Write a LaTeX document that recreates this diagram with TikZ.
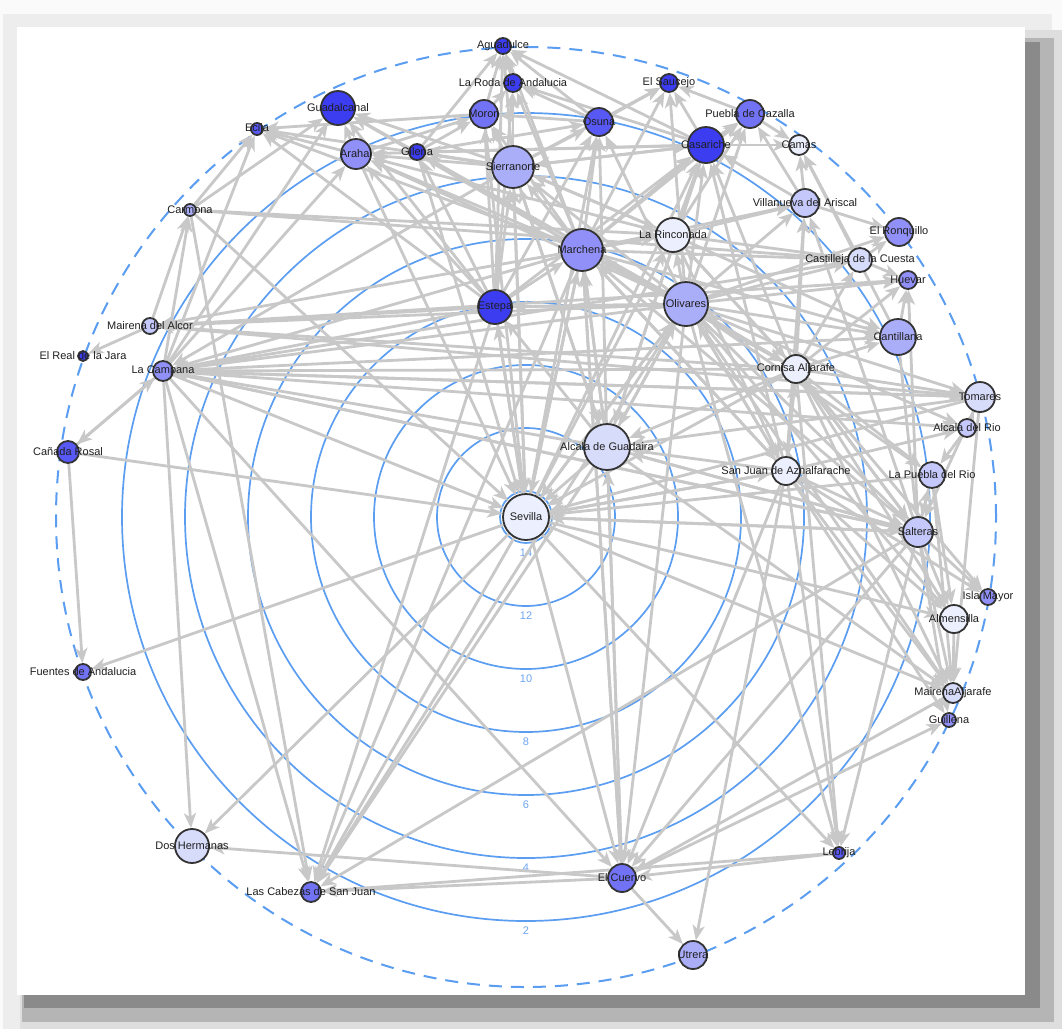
\documentclass[tikz,border=0pt]{standalone}
\usepackage{fontspec}
\setmainfont{Liberation Sans}
\usetikzlibrary{arrows.meta,backgrounds}
\definecolor{edgegray}{HTML}{C8C8C8}
\definecolor{ringblue}{HTML}{5B9DF0}
\definecolor{ringtext}{HTML}{6DA6F0}
\definecolor{bA}{HTML}{3C3CF0}
\definecolor{bB}{HTML}{5858F5}
\definecolor{bC}{HTML}{7272F5}
\definecolor{bD}{HTML}{9090F8}
\definecolor{bE}{HTML}{AAAEF8}
\definecolor{bF}{HTML}{C4C8FA}
\definecolor{bG}{HTML}{D8DCFB}
\definecolor{bH}{HTML}{ECEFFD}
\begin{document}
\begin{tikzpicture}[x=1pt,y=-1pt]
	\tikzstyle{Town} = [circle, draw=black!80, line width=1.8pt, inner sep=0pt]
	\tikzstyle{Arrow} = [edgegray, line width=2.8pt, -{Stealth[length=15pt,width=12pt,inset=4pt]}]
	\tikzstyle{Ring} = [ringblue, line width=1.7pt]
	\tikzstyle{RingLabel} = [text=ringtext, font=\fontsize{11}{12}\selectfont, inner sep=0pt]
	\tikzset{every label/.style={font=\fontsize{11}{12}\selectfont, text=black!88, inner sep=0pt}}
	\useasboundingbox (0,0) rectangle (1062,1029);
	
	% towns
	\node (agu) [Town, fill=bA, minimum size=16pt, label={center:Aguadulce}] at (503,46) {};
	\node (roda) [Town, fill=bA, minimum size=18pt, label={center:La Roda de Andalucia}] at (513,83) {};
	\node (sau) [Town, fill=bA, minimum size=18pt, label={center:El Saucejo}] at (669,83) {};
	\node (mor) [Town, fill=bC, minimum size=28pt, label={center:Moron}] at (484,114) {};
	\node (osu) [Town, fill=bB, minimum size=28pt, label={center:Osuna}] at (599,122) {};
	\node (pue) [Town, fill=bC, minimum size=28pt, label={center:Puebla de Cazalla}] at (750,114) {};
	\node (cas) [Town, fill=bA, minimum size=36pt, label={center:Casariche}] at (706,145) {};
	\node (cam) [Town, fill=bH, minimum size=20pt, label={center:Camas}] at (799,145) {};
	\node (gil) [Town, fill=bA, minimum size=16pt, label={center:Gilena}] at (417,152) {};
	\node (sie) [Town, fill=bE, minimum size=42pt, label={center:Sierranorte}] at (513,167) {};
	\node (gua) [Town, fill=bA, minimum size=34pt, label={center:Guadalcanal}] at (338,108) {};
	\node (eci) [Town, fill=bB, minimum size=12pt, label={center:Ecija}] at (257,129) {};
	\node (ara) [Town, fill=bD, minimum size=30pt, label={center:Arahal}] at (356,154) {};
	\node (car) [Town, fill=bE, minimum size=12pt, label={center:Carmona}] at (190,210) {};
	\node (vil) [Town, fill=bF, minimum size=28pt, label={center:Villanueva del Ariscal}] at (805,203) {};
	\node (rin) [Town, fill=bH, minimum size=34pt, label={center:La Rinconada}] at (673,235) {};
	\node (ron) [Town, fill=bD, minimum size=28pt, label={center:El Ronquillo}] at (899,232) {};
	\node (cdc) [Town, fill=bG, minimum size=24pt, label={center:Castilleja de la Cuesta}] at (860,260) {};
	\node (hue) [Town, fill=bD, minimum size=18pt, label={center:Huevar}] at (908,280) {};
	\node (oli) [Town, fill=bE, minimum size=44pt, label={center:Olivares}] at (686,304) {};
	\node (cnt) [Town, fill=bE, minimum size=36pt, label={center:Cantillana}] at (898,337) {};
	\node (mar) [Town, fill=bD, minimum size=42pt, label={center:Marchena}] at (582,250) {};
	\node (est) [Town, fill=bA, minimum size=34pt, label={center:Estepa}] at (495,307) {};
	\node (mda) [Town, fill=bF, minimum size=16pt, label={center:Mairena del Alcor}] at (150,326) {};
	\node (rea) [Town, fill=bA, minimum size=10pt, label={center:El Real de la Jara}] at (83,356) {};
	\node (cpa) [Town, fill=bD, minimum size=20pt, label={center:La Campana}] at (163,371) {};
	\node (cro) [Town, fill=bB, minimum size=22pt, label={center:Cañada Rosal}] at (68,452) {};
	\node (cor) [Town, fill=bH, minimum size=28pt, label={center:Cornisa Aljarafe}] at (796,369) {};
	\node (tom) [Town, fill=bG, minimum size=30pt, label={center:Tomares}] at (980,397) {};
	\node (adr) [Town, fill=bF, minimum size=18pt, label={center:Alcala del Rio}] at (967,428) {};
	\node (sja) [Town, fill=bH, minimum size=28pt, label={center:San Juan de Aznalfarache}] at (786,471) {};
	\node (pdr) [Town, fill=bF, minimum size=26pt, label={center:La Puebla del Rio}] at (932,475) {};
	\node (sal) [Town, fill=bF, minimum size=30pt, label={center:Salteras}] at (918,532) {};
	\node (adg) [Town, fill=bG, minimum size=46pt, label={center:Alcala de Guadaira}] at (607,447) {};
	\node (sev) [Town, fill=bH, minimum size=46pt, label={center:Sevilla}] at (526,517) {};
	\node (ism) [Town, fill=bD, minimum size=16pt, label={center:Isla Mayor}] at (988,597) {};
	\node (alm) [Town, fill=bH, minimum size=28pt, label={center:Almensilla}] at (954,619) {};
	\node (maj) [Town, fill=bG, minimum size=20pt, label={center:MairenaAljarafe}] at (953,693) {};
	\node (gui) [Town, fill=bD, minimum size=14pt, label={center:Guillena}] at (949,720) {};
	\node (fue) [Town, fill=bC, minimum size=16pt, label={center:Fuentes de Andalucia}] at (83,672) {};
	\node (dos) [Town, fill=bG, minimum size=34pt, label={center:Dos Hermanas}] at (192,846) {};
	\node (cue) [Town, fill=bC, minimum size=28pt, label={center:El Cuervo}] at (622,878) {};
	\node (leb) [Town, fill=bB, minimum size=12pt, label={center:Lebrija}] at (839,853) {};
	\node (utr) [Town, fill=bE, minimum size=28pt, label={center:Utrera}] at (693,955) {};
	\node (lcs) [Town, fill=bC, minimum size=20pt, label={center:Las Cabezas de San Juan}] at (311,892) {};
	
	\begin{pgfonlayer}{background}
	% frame and shadow
	\fill[black!2] (0,0) rectangle (1062,1029);
	\fill[black!7] (3,14) rectangle (1052,1029);
	\fill[black!13] (20,30) rectangle (1062,1029);
	\fill[black!29] (22,38) rectangle (1054,1022);
	\fill[black!46] (24,42) rectangle (1040,1008);
	\fill[white] (17,27) rectangle (1025,995);
	% distance rings
	\foreach \r/\t in {26/14, 89/12, 152/10, 215/8, 278/6, 341/4, 404/2} {
		\draw[Ring] (526,517) circle (\r pt);
		\node (ring\t) [RingLabel] at (526,{517+\r+10}) {\t};
	}
	\draw[Ring, line width=2pt, dash pattern=on 13pt off 9pt] (526,517) circle (470pt);
	% links
	\foreach \a/\b in {mor/agu, sie/agu, osu/agu, cas/agu, roda/agu, mar/agu, est/agu, gil/agu,
		mor/roda, sie/roda, mar/roda, est/roda, osu/roda, cas/roda,
		osu/sau, cas/sau, mar/sau, sie/sau, pue/sau, oli/sau,
		cas/pue, mar/pue, oli/pue, rin/pue, vil/pue,
		est/cas, oli/cas, mar/cas, rin/cas, adg/cas, cor/cas, sja/cas, sev/cas, sie/cas, vil/cas,
		vil/cam, cnt/cam, cas/cam, pue/cam, cdc/cam,
		est/osu, mar/osu, sie/osu, oli/osu, sev/osu, adg/osu, gil/osu,
		est/mor, sie/mor, mar/mor, ara/mor, gil/mor, osu/mor,
		mar/gil, sie/gil, est/gil, oli/gil, cas/gil,
		mar/gua, sie/gua, est/gua, car/gua, oli/gua, ara/gua, cpa/gua,
		mar/ara, sie/ara, est/ara, cas/ara, oli/ara, rin/ara, cpa/ara,
		cpa/eci, car/eci, mar/eci, est/eci, sie/eci, mor/eci, ara/eci,
		mar/sie, est/sie, oli/sie, adg/sie, rin/sie, sev/sie, cas/sie,
		oli/mar, adg/mar, sev/mar, est/mar, cor/mar, sja/mar, sal/mar, cue/mar,
		sev/est, adg/est, oli/est,
		oli/adg, mar/adg, sie/adg, cas/adg, cor/adg, sja/adg, cue/adg, sal/adg, tom/adg,
		cro/sev, adg/sev, mar/sev, oli/sev, sie/sev, est/sev, mor/sev, ara/sev, gil/sev, cpa/sev,
		sal/sev, sja/sev, pdr/sev, cor/sev, tom/sev, car/sev,
		sev/dos, sev/fue, sev/lcs, sev/cue, sev/alm, sev/maj, sev/leb,
		oli/vil, rin/vil, mar/vil, cor/vil, sja/vil, sal/vil,
		vil/ron, cdc/ron, oli/ron,
		oli/cdc, rin/cdc, cor/cdc, mar/cdc, car/cdc,
		cdc/hue, oli/hue, sal/hue, cor/hue, cnt/hue, mda/hue,
		oli/cnt, cor/cnt, rin/cnt, mar/cnt, cpa/cnt,
		cor/tom, oli/tom, cpa/tom, mda/tom, adr/tom,
		sja/adr, oli/adr, cpa/adr,
		sal/pdr, oli/pdr, cor/pdr, adr/pdr,
		oli/sal, cor/sal, sja/sal, sev/sal, pdr/sal, cnt/sal, adg/sal, cpa/sal, tom/sal,
		sal/ism, sja/ism, cor/ism,
		sal/alm, sja/alm, oli/alm, cor/alm, pdr/alm,
		sal/maj, sja/maj, oli/maj, alm/maj, pdr/maj, adg/maj, cor/maj, tom/maj,
		sja/gui, sal/gui, cue/gui,
		sja/leb, oli/leb, sal/leb, cor/leb,
		leb/cue, adg/cue, oli/cue, mar/cue, cpa/cue, sja/cue, maj/cue, sal/cue,
		cue/utr, sja/utr,
		cpa/lcs, car/lcs, est/lcs, mar/lcs, oli/lcs, adg/lcs, cue/lcs, leb/lcs, sal/lcs,
		cpa/dos, cue/dos,
		sja/cor, oli/cor, rin/cor, mar/cor, sal/cor,
		cor/sja, oli/sja, mar/sja, rin/sja, sev/sja,
		mar/rin, oli/rin, sie/rin, sev/rin, cor/rin, car/rin,
		adg/oli, sev/oli, est/oli, cor/oli, sja/oli,
		est/mda, mar/mda, oli/mda, cor/mda,
		mda/rea, mda/car, cpa/car,
		cro/cpa, cpa/cro, cro/fue,
		est/cpa, mar/cpa, oli/cpa, cor/cpa, tom/cpa, sal/cpa, cdc/cpa, sie/cpa, adg/cpa}
		\draw[Arrow] (\a) -- (\b);
	\end{pgfonlayer}
\end{tikzpicture}
\end{document}
